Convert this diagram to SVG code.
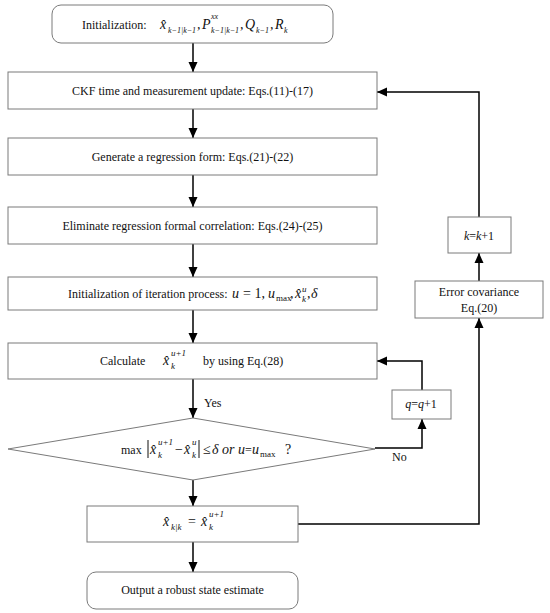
<svg xmlns="http://www.w3.org/2000/svg" width="550" height="613" viewBox="0 0 550 613">
<style>
.box{fill:#fff;stroke:#7a7a7a;stroke-width:1}
.t{font-family:"Liberation Serif","Times New Roman",serif;font-size:12px;fill:#111}
.m{font-family:"Liberation Serif","Times New Roman",serif;font-size:14px;font-style:italic;fill:#111}
.s{font-family:"Liberation Serif","Times New Roman",serif;font-size:9px;font-style:italic;fill:#111}
.s8{font-family:"Liberation Serif","Times New Roman",serif;font-size:8px;font-style:italic;fill:#111}
.sn{font-family:"Liberation Serif","Times New Roman",serif;font-size:9px;fill:#111}
.c{text-anchor:middle}
.ln{fill:none;stroke:#000;stroke-width:1.5}
</style>
<defs>
<marker id="ah" markerUnits="userSpaceOnUse" markerWidth="10" markerHeight="10" viewBox="0 0 10 10" refX="10" refY="5" orient="auto">
<path d="M0,0.5 L10,5 L0,9.5 Z" fill="#000"/>
</marker>
</defs>
<g id="connectors">
<line class="ln" x1="193" y1="43" x2="193" y2="72" marker-end="url(#ah)"/>
<line class="ln" x1="193" y1="109" x2="193" y2="138" marker-end="url(#ah)"/>
<line class="ln" x1="193" y1="175" x2="193" y2="207" marker-end="url(#ah)"/>
<line class="ln" x1="193" y1="244" x2="193" y2="277" marker-end="url(#ah)"/>
<line class="ln" x1="193" y1="310" x2="193" y2="343" marker-end="url(#ah)"/>
<line class="ln" x1="193" y1="379" x2="193" y2="418" marker-end="url(#ah)"/>
<line class="ln" x1="193" y1="480" x2="193" y2="506" marker-end="url(#ah)"/>
<line class="ln" x1="193" y1="542" x2="193" y2="572" marker-end="url(#ah)"/>
<polyline class="ln" points="375,448 422,448 422,419" marker-end="url(#ah)"/>
<polyline class="ln" points="422,390 422,361 377,361" marker-end="url(#ah)"/>
<polyline class="ln" points="298,524 479,524 479,318" marker-end="url(#ah)"/>
<line class="ln" x1="479" y1="281" x2="479" y2="253" marker-end="url(#ah)"/>
<polyline class="ln" points="479,217 479,92 377,92" marker-end="url(#ah)"/>
<text class="t" x="204" y="407">Yes</text>
<text class="t" x="392" y="461">No</text>
</g>
<g id="init">
<rect class="box" x="52" y="5" width="281" height="38" rx="9"/>
<text class="t" x="82" y="29">Initialization:</text>
<text class="m" x="160" y="29">x̂</text>
<text class="s8" x="168" y="33">k−1|k−1</text>
<text class="m" x="197" y="29">,</text>
<text class="m" x="202" y="29">P</text>
<text class="s8" x="211" y="19">xx</text>
<text class="s8" x="211" y="33">k−1|k−1</text>
<text class="m" x="240" y="29">,</text>
<text class="m" x="245" y="29">Q</text>
<text class="s8" x="256" y="33">k−1</text>
<text class="m" x="270" y="29">,</text>
<text class="m" x="275" y="29">R</text>
<text class="s8" x="284" y="33">k</text>
</g>
<g id="ckf">
<rect class="box" x="8" y="72" width="369" height="37"/>
<text class="t c" x="192.5" y="95">CKF time and measurement update: Eqs.(11)-(17)</text>
</g>
<g id="generate">
<rect class="box" x="8" y="138" width="369" height="37"/>
<text class="t c" x="192.5" y="161">Generate a regression form: Eqs.(21)-(22)</text>
</g>
<g id="eliminate">
<rect class="box" x="8" y="207" width="369" height="37"/>
<text class="t c" x="192.5" y="230">Eliminate regression formal correlation: Eqs.(24)-(25)</text>
</g>
<g id="iterinit">
<rect class="box" x="8" y="277" width="369" height="33"/>
<text class="t" x="68" y="298">Initialization of iteration process:</text>
<text class="m" x="232" y="298">u</text>
<text class="t" x="243" y="298" style="font-size:14px">= 1,</text>
<text class="m" x="268" y="298">u</text>
<text class="sn" x="276" y="301">max</text>
<text class="m" x="290" y="298">,</text>
<text class="m" x="295" y="298">x̂</text>
<text class="s" x="302" y="292">u</text>
<text class="s" x="302" y="302">k</text>
<text class="m" x="307" y="298">,</text>
<text class="m" x="311" y="298">δ</text>
</g>
<g id="calculate">
<rect class="box" x="8" y="343" width="369" height="36"/>
<text class="t" x="100" y="365">Calculate</text>
<text class="m" x="163" y="365">x̂</text>
<text class="s" x="171" y="356">u+1</text>
<text class="s" x="171" y="369">k</text>
<text class="t" x="203" y="365">by using Eq.(28)</text>
</g>
<g id="decision">
<polygon class="box" points="193,418 375,449 193,480 8,449"/>
<text class="t" x="121" y="454">max</text>
<line x1="148" y1="440" x2="148" y2="458" stroke="#111" stroke-width="1"/>
<text class="m" x="150" y="454">x̂</text>
<text class="s" x="158" y="445">u+1</text>
<text class="s" x="158" y="458">k</text>
<text class="m" x="174" y="454">−</text>
<text class="m" x="184" y="454">x̂</text>
<text class="s" x="192" y="445">u</text>
<text class="s" x="192" y="458">k</text>
<line x1="199" y1="440" x2="199" y2="458" stroke="#111" stroke-width="1"/>
<text class="m" x="203" y="454" style="font-style:normal">≤</text>
<text class="m" x="212" y="454">δ</text>
<text class="m" x="222" y="454">or</text>
<text class="m" x="238" y="454">u</text>
<text class="t" x="245" y="454">=</text>
<text class="m" x="252" y="454">u</text>
<text class="sn" x="260" y="457">max</text>
<text class="t" x="285" y="454" style="font-size:14px">?</text>
</g>
<g id="result">
<rect class="box" x="87" y="506" width="211" height="36"/>
<text class="m" x="163" y="526">x̂</text>
<text class="s" x="171" y="530">k|k</text>
<text class="t" x="188" y="526" style="font-size:14px">=</text>
<text class="m" x="201" y="526">x̂</text>
<text class="s" x="209" y="517">u+1</text>
<text class="s" x="209" y="530">k</text>
</g>
<g id="output">
<rect class="box" x="87" y="572" width="211" height="37" rx="9"/>
<text class="t c" x="192.5" y="594">Output a robust state estimate</text>
</g>
<g id="errcov">
<rect class="box" x="415" y="281" width="128" height="37"/>
<text class="t c" x="479" y="296">Error covariance</text>
<text class="t c" x="479" y="312">Eq.(20)</text>
</g>
<g id="kinc">
<rect class="box" x="448" y="217" width="63" height="36"/>
<text class="t c" x="479" y="240"><tspan font-style="italic">k</tspan>=<tspan font-style="italic">k</tspan>+1</text>
</g>
<g id="qinc">
<rect class="box" x="392" y="390" width="59" height="29"/>
<text class="t c" x="421" y="408"><tspan font-style="italic">q</tspan>=<tspan font-style="italic">q</tspan>+1</text>
</g>
</svg>
